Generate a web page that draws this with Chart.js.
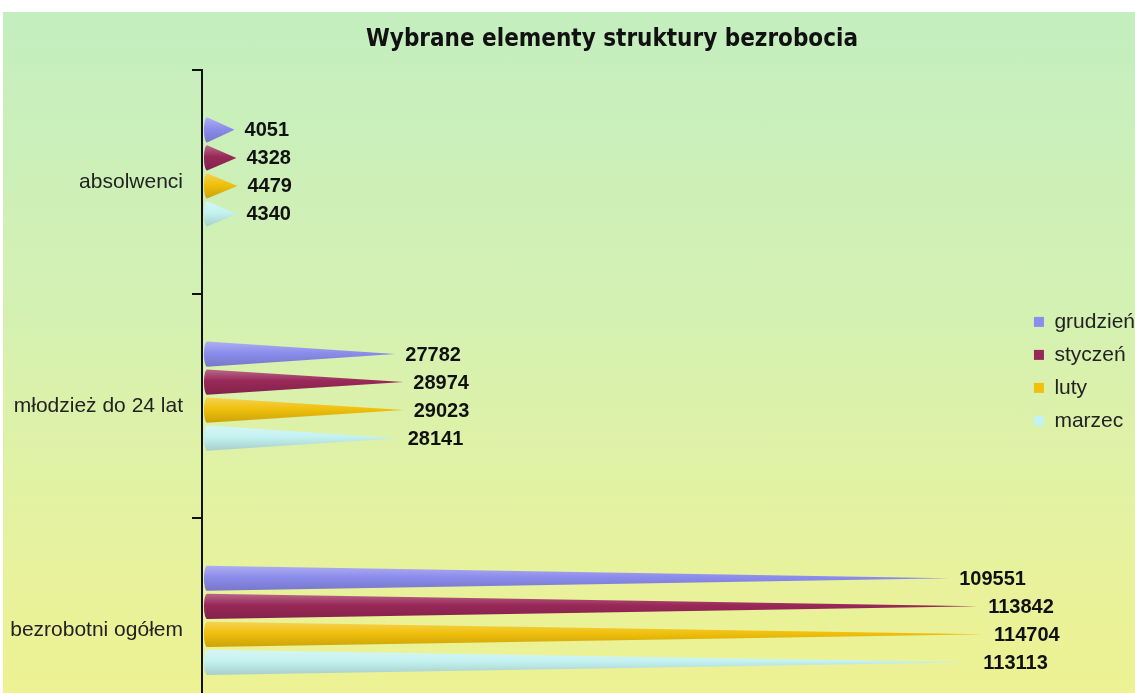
<!DOCTYPE html>
<html lang="pl">
<head>
<meta charset="utf-8">
<title>Wybrane elementy struktury bezrobocia</title>
<script src="https://cdn.jsdelivr.net/npm/chart.js@4/dist/chart.umd.min.js"></script>
<style>
  html, body { margin: 0; padding: 0; background: #fff; overflow: hidden; width: 1135px; height: 693px; }
  /* tło wykresu: zielony u góry -> żółty na dole */
  #wrap {
    position: absolute; left: 3px; top: 12px; width: 1142px; height: 752px;
    background: linear-gradient(to bottom, #c4eebf 0%, #d4f1b2 40%, #e8f29c 75%, #f0f28c 100%);
  }
</style>
</head>
<body>
<div id="wrap"><canvas id="chart"></canvas></div>
<script>
/* ---- Dane ---- */
const TITLE = "Wybrane elementy struktury bezrobocia";
const CATEGORIES = ["absolwenci", "młodzież do 24 lat", "bezrobotni ogółem"];
const MONTHS = ["grudzień", "styczeń", "luty", "marzec"];
const COLORS = ["#8c8cec", "#992858", "#f0c00c", "#c4f2f0"];

const GRUDZIEN = [4051, 27782, 109551];
const STYCZEN  = [4328, 28974, 113842];
const LUTY     = [4479, 29023, 114704];
const MARZEC   = [4340, 28141, 113113];

const X_MIN = -750;     // stożki zaczynają się kawałek za osią
const X_MAX = 120300;
const SHIFT = 10;       // lekkie przesunięcie stożków w górę (efekt 3D)

/* ---- rozjaśnij / przyciemnij kolor ---- */
function shade(hex, k) {
  const n = parseInt(hex.slice(1), 16);
  let r = n >> 16, g = (n >> 8) & 255, b = n & 255;
  const f = c => k >= 0 ? Math.round(c + (255 - c) * k) : Math.round(c * (1 + k));
  return "rgb(" + f(r) + "," + f(g) + "," + f(b) + ")";
}

/* ---- Stożki zamiast prostokątów + etykiety wartości ---- */
const conePlugin = {
  id: "cones",
  beforeDatasetDraw() { return false; },   // zwykłych słupków nie rysujemy
  afterDatasetsDraw(chart) {
    const ctx = chart.ctx;
    chart.data.datasets.forEach((ds, i) => {
      const meta = chart.getDatasetMeta(i);
      if (meta.hidden) return;
      meta.data.forEach((bar, j) => {
        const { x, y, base, height } = bar.getProps(["x", "y", "base", "height"], true);
        const cy = y - SHIFT, h = height / 2;
        const col = COLORS[i];
        const g = ctx.createLinearGradient(0, cy - h, 0, cy + h);
        g.addColorStop(0, shade(col, 0.3));
        g.addColorStop(0.45, col);
        g.addColorStop(1, shade(col, -0.15));
        ctx.save();
        ctx.beginPath();
        ctx.moveTo(base, cy - h);
        ctx.lineTo(x, cy);
        ctx.lineTo(base, cy + h);
        ctx.ellipse(base, cy, h * 0.25, h, 0, Math.PI / 2, Math.PI * 1.5);
        ctx.closePath();
        ctx.fillStyle = g;
        ctx.fill();

        ctx.font = "bold 20px 'Liberation Sans', Arial, sans-serif";
        ctx.fillStyle = "#111";
        ctx.textBaseline = "middle";
        ctx.textAlign = "left";
        ctx.fillText(String(ds.data[j]), x + 10, cy + 1);
        ctx.restore();
      });
    });
  }
};

const SERIES = [GRUDZIEN, STYCZEN, LUTY, MARZEC];

const chart = new Chart(document.getElementById("chart"), {
  type: "bar",
  data: {
    labels: CATEGORIES,
    datasets: SERIES.map((vals, i) => ({
      label: MONTHS[i],
      data: vals,
      backgroundColor: COLORS[i],
      borderWidth: 0,
      categoryPercentage: 0.5,
      barPercentage: 0.9
    }))
  },
  options: {
    indexAxis: "y",
    responsive: true, maintainAspectRatio: false,
    animation: false,
    layout: { padding: { left: 0, right: 0, top: 0, bottom: 0 } },
    plugins: {
      title: {
        display: true, text: TITLE, fullSize: false, color: "#111",
        font: { size: 24, weight: "bold", family: "'Liberation Sans Narrow', 'DejaVu Sans Condensed', Arial, sans-serif" },
        padding: { top: 13, bottom: 16 }
      },
      legend: {
        position: "right", align: "start",
        // pusty tytuł legendy tylko odsuwa wpisy w dół
        title: { display: true, text: " ", font: { size: 12 }, padding: { top: 0, bottom: 273 } },
        labels: {
          boxWidth: 10, boxHeight: 10, padding: 12, color: "#222",
          font: { size: 21, family: "'Liberation Sans', Arial, sans-serif" }
        }
      },
      tooltip: { enabled: false }
    },
    scales: {
      x: { min: X_MIN, max: X_MAX, display: false },
      y: {
        afterFit(axis) { axis.width = 199; },
        border: { color: "#111", width: 2 },
        grid: { drawOnChartArea: false, color: "#111", lineWidth: 2, tickLength: 10, offset: true },
        ticks: { color: "#222", padding: 9, font: { size: 21, family: "'Liberation Sans', Arial, sans-serif" } }
      }
    }
  },
  plugins: [conePlugin]
});
</script>
</body>
</html>
